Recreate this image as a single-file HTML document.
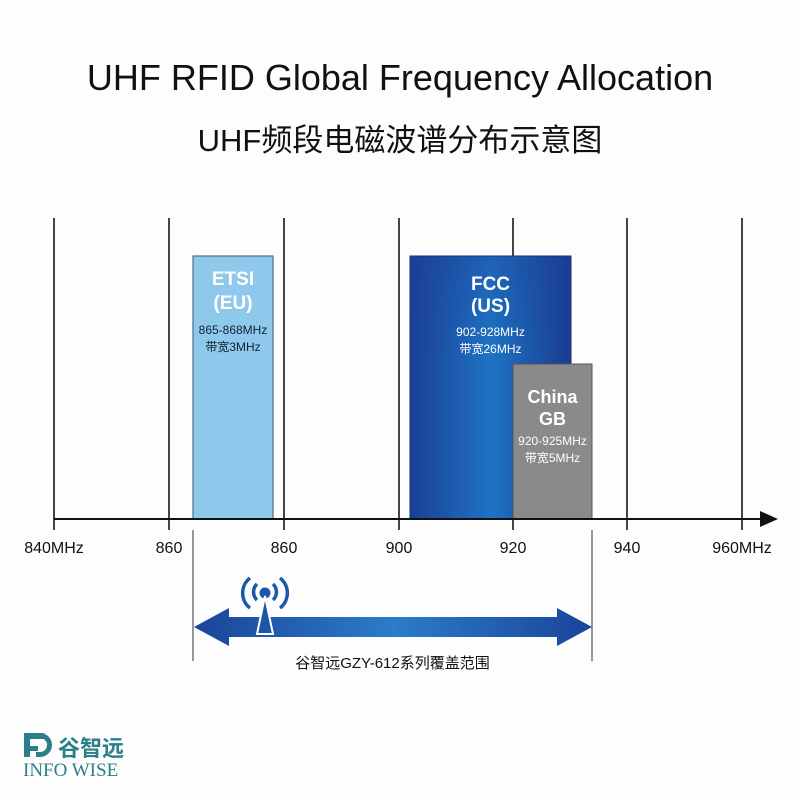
<!DOCTYPE html>
<html><head><meta charset="utf-8"><style>
body{margin:0;background:#fdfdfd;}
.t{position:absolute;font-family:"Liberation Sans","Noto Sans CJK SC",sans-serif;white-space:nowrap;}
</style></head><body>
<div style="position:relative;width:800px;height:800px;overflow:hidden;background:#fdfdfd">
<div class="t" style="left:0;width:800px;top:57px;text-align:center;font-size:36px;color:#111">UHF RFID Global Frequency Allocation</div>
<div class="t" style="left:0;width:800px;top:115px;text-align:center;font-size:31px;color:#111">UHF频段电磁波谱分布示意图</div>
<svg width="800" height="800" style="position:absolute;left:0;top:0">
<defs>
<linearGradient id="fcc" x1="0" x2="1" y1="0" y2="0">
<stop offset="0" stop-color="#1a3f94"/><stop offset="0.5" stop-color="#1f73c4"/><stop offset="1" stop-color="#1a3c90"/></linearGradient>
<linearGradient id="fcc2" x1="0" x2="0" y1="0" y2="1">
<stop offset="0" stop-color="#1a3f94" stop-opacity="0.3"/><stop offset="1" stop-color="#1a3f94" stop-opacity="0"/></linearGradient>
<linearGradient id="ar" x1="0" x2="1"><stop offset="0" stop-color="#1a449a"/><stop offset="0.5" stop-color="#2c7cc8"/><stop offset="1" stop-color="#1a449a"/></linearGradient>
</defs>
<g stroke="#444" stroke-width="2">
<line x1="54" y1="218" x2="54" y2="530"/><line x1="169" y1="218" x2="169" y2="530"/>
<line x1="284" y1="218" x2="284" y2="530"/><line x1="399" y1="218" x2="399" y2="530"/>
<line x1="513" y1="218" x2="513" y2="530"/><line x1="627" y1="218" x2="627" y2="530"/>
<line x1="742" y1="218" x2="742" y2="530"/>
</g>
<rect x="193" y="256" width="80" height="263" fill="#8ec9ec" stroke="#4a6d88" stroke-width="1.2"/>
<rect x="410" y="256" width="161" height="263" fill="url(#fcc)" stroke="#1a2f6a"/>
<rect x="410" y="256" width="161" height="100" fill="url(#fcc2)"/>
<rect x="513" y="364" width="79" height="155" fill="#8a8a8a" stroke="#555"/>
<line x1="54" y1="519" x2="768" y2="519" stroke="#111" stroke-width="2"/>
<polygon points="778,519 760,511 760,527" fill="#111"/>
<g stroke="#555" stroke-width="1.2"><line x1="193" y1="530" x2="193" y2="661"/><line x1="592" y1="530" x2="592" y2="661"/></g>
<polygon points="194,627 229,608 229,617 557,617 557,608 592,627 557,646 557,637 229,637 229,646" fill="url(#ar)"/>
<g fill="none" stroke="#1d58a8" stroke-width="3.5">
<path d="M257 584 a11 11 0 0 0 0 16"/><path d="M273 584 a11 11 0 0 1 0 16"/>
<path d="M250 578 a19 19 0 0 0 0 30"/><path d="M280 578 a19 19 0 0 1 0 30"/>
</g>
<circle cx="265" cy="593" r="5.5" fill="#1d58a8"/>
<polygon points="265,596 257,634 273,634" fill="#1d58a8" stroke="#fff" stroke-width="2"/>
<g fill="#2a7f8a"><rect x="24" y="733" width="20" height="6"/><rect x="24" y="733" width="6" height="24"/><rect x="24" y="746" width="14" height="5"/><path d="M36 733 h4 a12 12 0 0 1 0 24 h-4 v-5 h4 a7 7 0 0 0 0 -14 h-4z"/></g>
</svg>
<div class="t" style="left:193px;width:80px;top:268px;text-align:center;color:#fff;font-size:19px;font-weight:bold;line-height:24px">ETSI<br>(EU)</div>
<div class="t" style="left:189px;width:88px;top:322px;text-align:center;color:#123;font-size:12px;line-height:17px">865-868MHz<br>带宽3MHz</div>
<div class="t" style="left:410px;width:161px;top:274px;text-align:center;color:#fff;font-size:19px;font-weight:bold;line-height:22px">FCC<br>(US)</div>
<div class="t" style="left:410px;width:161px;top:324px;text-align:center;color:#fff;font-size:12px;line-height:17px">902-928MHz<br>带宽26MHz</div>
<div class="t" style="left:513px;width:79px;top:386px;text-align:center;color:#fff;font-size:18px;font-weight:bold;line-height:22px">China<br>GB</div>
<div class="t" style="left:509px;width:87px;top:433px;text-align:center;color:#fff;font-size:12px;line-height:17px">920-925MHz<br>带宽5MHz</div>
<div class="t" style="left:4px;width:100px;top:540px;text-align:center;font-size:16px;color:#111">840MHz</div>
<div class="t" style="left:129px;width:80px;top:540px;text-align:center;font-size:16px;color:#111">860</div>
<div class="t" style="left:244px;width:80px;top:540px;text-align:center;font-size:16px;color:#111">860</div>
<div class="t" style="left:359px;width:80px;top:540px;text-align:center;font-size:16px;color:#111">900</div>
<div class="t" style="left:473px;width:80px;top:540px;text-align:center;font-size:16px;color:#111">920</div>
<div class="t" style="left:587px;width:80px;top:540px;text-align:center;font-size:16px;color:#111">940</div>
<div class="t" style="left:692px;width:100px;top:540px;text-align:center;font-size:16px;color:#111">960MHz</div>
<div class="t" style="left:193px;width:399px;top:652px;text-align:center;font-size:15px;color:#111">谷智远GZY-612系列覆盖范围</div>
<div class="t" style="left:58px;top:731px;font-size:22px;font-weight:bold;color:#2a7f8a">谷智远</div>
<div class="t" style="left:23px;top:760px;font-size:19px;color:#2a7f8a;font-family:'Liberation Serif',serif">INFO WISE</div>
</div>
</body></html>
